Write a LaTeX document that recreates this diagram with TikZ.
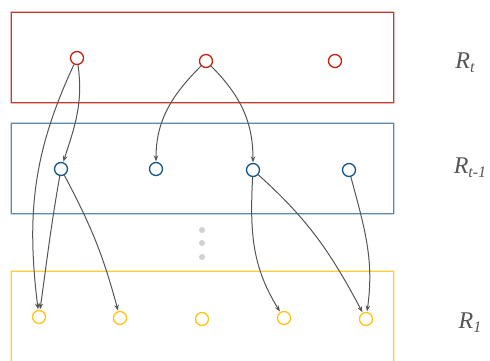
\documentclass[tikz,border=0pt]{standalone}
\usepackage{fontspec}
\setmainfont{Liberation Serif}
\usepackage{tikz}
\usetikzlibrary{
  arrows.meta,
  positioning,
}
\definecolor{levelred}{RGB}{192, 36, 20}
\definecolor{levelblue}{RGB}{18, 88, 138}
\definecolor{levelyellow}{RGB}{255, 196, 20}
\definecolor{edgegray}{RGB}{85, 85, 85}
\tikzstyle{state} = [
  circle,
  minimum size=13pt,
  inner sep=0pt,
  line width=1.3pt,
  fill=white,
]
\tikzstyle{link} = [
  -{Stealth[length=6pt,width=4.5pt]},
  line width=1pt,
  edgegray,
  shorten >=0.5pt,
]
\tikzstyle{tag} = [
  font=\fontsize{24}{28}\selectfont\itshape,
  text=edgegray,
]

\begin{document}
\begin{tikzpicture}[x=1pt, y=1pt]

        \useasboundingbox (0,0) rectangle (490,361);

        % frames as thin filled bands
        \fill [levelred!90, even odd rule]
              (10.6,257.6) rectangle (394.4,349.4)
              (11.8,258.8) rectangle (393.2,348.2);

        \fill [levelblue!70, even odd rule]
              (10.6,146.6) rectangle (394.4,238.4)
              (11.8,147.8) rectangle (393.2,237.2);

        \fill [levelyellow!85, even odd rule]
              (10.6,-2) rectangle (394.4,90.4)
              (11.8,-3) rectangle (393.2,89.2);

        \node [state, draw=levelred] (t1) at (77,303) {};
        \node [state, draw=levelred] (t2) at (206,300) {};
        \node [state, draw=levelred] (t3) at (335,300) {};

        \node [state, draw=levelblue] (m1) at (61,192) {};
        \node [state, draw=levelblue] (m2) at (156,192) {};
        \node [state, draw=levelblue] (m3) at (253,191) {};
        \node [state, draw=levelblue] (m4) at (349,191) {};

        \foreach \y [count=\i] in {131,118,104} {
          \fill [black!18] (202,\y) circle (3pt) coordinate (dot\i);
        }

        \node [state, draw=levelyellow] (b1) at (39,44) {};
        \node [state, draw=levelyellow] (b2) at (120,43) {};
        \node [state, draw=levelyellow] (b3) at (202,42) {};
        \node [state, draw=levelyellow] (b4) at (284,43) {};
        \node [state, draw=levelyellow] (b5) at (366,42) {};

        \node [tag] (rt) at (465,298) {R\raisebox{-0.35ex}{\fontsize{16}{20}\selectfont t}};
        \node [tag] (rtm) at (470,193) {R\raisebox{-0.35ex}{\fontsize{16}{20}\selectfont t-1}};
        \node [tag] (r1) at (470,38) {R\raisebox{-0.35ex}{\fontsize{16}{20}\selectfont 1}};

        \draw [link] (t1) to [out=-82, in=72] (m1);
        \draw [link] (t1) to [out=-115, in=97] (b1);

        \draw [link] (t2) to [out=-135, in=90] (m2);
        \draw [link] (t2) to [out=-45, in=90] (m3);

        \draw [link] (m1) to [out=-100, in=82] (b1);
        \draw [link] (m1) to [out=-62, in=105] (b2);

        \draw [link] (m3) to [out=-93, in=122] (b4);
        \draw [link] (m3) to [out=-42, in=118] (b5);

        \draw [link] (m4) to [out=-75, in=82] (b5);
      \end{tikzpicture}
\end{document}
